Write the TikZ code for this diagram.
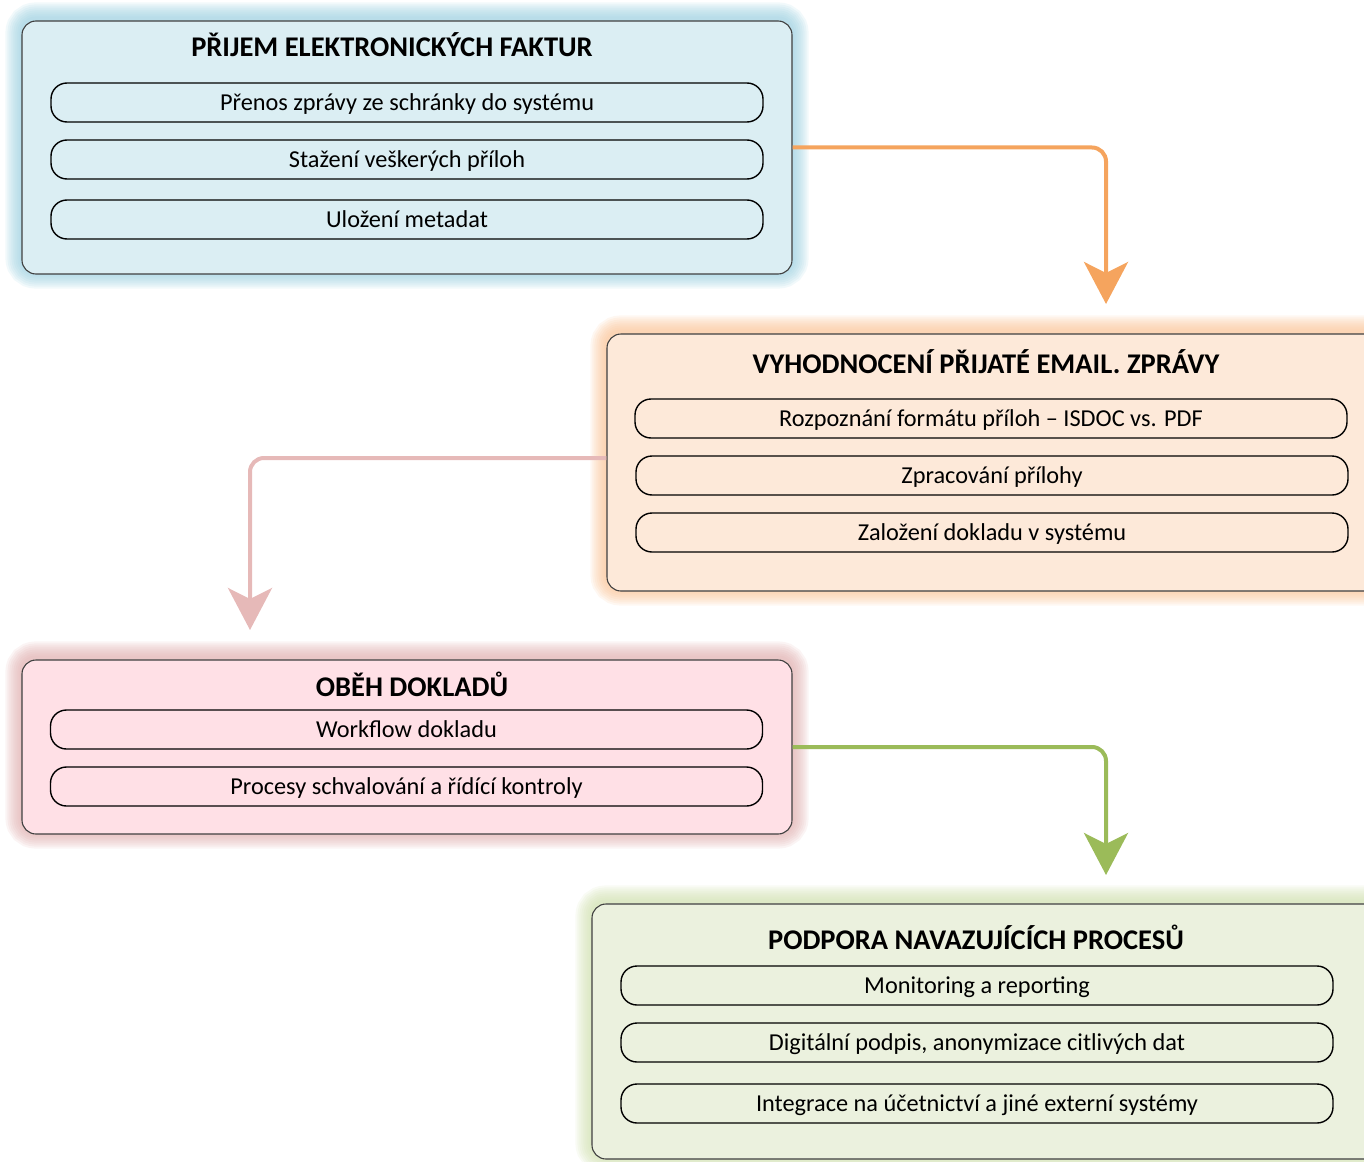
\documentclass[tikz,border=0pt]{standalone}
\usepackage{fontspec}
\setmainfont{Carlito}
\usetikzlibrary{arrows.meta,backgrounds}
\definecolor{bluefill}{RGB}{219,238,243}
\definecolor{blueglow}{RGB}{150,205,222}
\definecolor{orfill}{RGB}{253,233,217}
\definecolor{orglow}{RGB}{250,192,144}
\definecolor{pkfill}{RGB}{255,224,230}
\definecolor{pkglow}{RGB}{222,170,170}
\definecolor{grfill}{RGB}{235,241,222}
\definecolor{grglow}{RGB}{205,222,170}
\definecolor{orarrow}{RGB}{245,164,94}
\definecolor{pkarrow}{RGB}{230,185,184}
\definecolor{grarrow}{RGB}{155,187,89}
\tikzset{
  panel/.style={draw=black!75, line width=1.1pt, rounded corners=14pt, inner sep=0pt, fill=#1},
  pill/.style={draw=black, line width=1.4pt, rounded corners=16pt, inner sep=0pt, text depth=0pt,
    minimum width=712pt, minimum height=39pt, font=\fontsize{24.3}{27}\selectfont},
  ttl/.style={font=\fontsize{28.5}{32}\selectfont\bfseries, inner sep=0pt},
  conn/.style={line width=4pt, rounded corners=14pt, -{Stealth[length=42pt,width=44pt,inset=11pt]}},
  glowline/.style={draw=#1, rounded corners=14pt}
}
\newcommand{\glowbox}[2]{%
  \begin{scope}[on background layer]
    \foreach \w in {32,28,24,20,16,12,8,4}{
      \draw[glowline=#2, line width=\w pt, opacity=0.13] ([yshift=2pt]#1.south west) rectangle ([yshift=2pt]#1.north east);
    }
  \end{scope}}
\begin{document}
\begin{tikzpicture}[x=1pt,y=-1pt]
\useasboundingbox (0,0) rectangle (1364,1161);
% Box 1
\node[panel=bluefill, minimum width=770pt, minimum height=253pt] (b1) at (407,147.5) {};
\glowbox{b1}{blueglow}
\node[ttl] (t1) at (392,45) {PŘIJEM ELEKTRONICKÝCH FAKTUR};
\node[pill] (p11) at (407,102.5) {Přenos zprávy ze schránky do systému};
\node[pill] (p12) at (407,159.5) {Stažení veškerých příloh};
\node[pill] (p13) at (407,219.5) {Uložení metadat};
% Box 2
\node[panel=orfill, minimum width=790pt, minimum height=257pt] (b2) at (1002,462.5) {};
\glowbox{b2}{orglow}
\node[ttl] (t2) at (986,362) {VYHODNOCENÍ PŘIJATÉ EMAIL. ZPRÁVY};
\node[pill] (p21) at (991,418.5) {Rozpoznání formátu příloh – ISDOC vs. PDF};
\node[pill] (p22) at (992,475.5) {Zpracování přílohy};
\node[pill] (p23) at (992,532.5) {Založení dokladu v systému};
% Box 3
\node[panel=pkfill, minimum width=770pt, minimum height=174pt] (b3) at (407,747) {};
\glowbox{b3}{pkglow}
\node[ttl] (t3) at (412,684) {OBĚH DOKLADŮ};
\node[pill] (p31) at (406.5,729.5) {Workflow dokladu};
\node[pill] (p32) at (406.5,786.5) {Procesy schvalování a řídící kontroly};
% Box 4
\node[panel=grfill, minimum width=800pt, minimum height=255pt] (b4) at (992,1031.5) {};
\glowbox{b4}{grglow}
\node[ttl] (t4) at (976,937) {PODPORA NAVAZUJÍCÍCH PROCESŮ};
\node[pill] (p41) at (977,985.5) {Monitoring a reporting};
\node[pill] (p42) at (977,1042.5) {Digitální podpis, anonymizace citlivých dat};
\node[pill] (p43) at (977,1103.5) {Integrace na účetnictví a jiné externí systémy};
% Arrows
\coordinate (e1) at (1106,304);
\coordinate (e2) at (250,630);
\coordinate (e3) at (1106,875);
\draw[conn, draw=orarrow] (b1.east) -| (e1);
\draw[conn, draw=pkarrow] (b2.west |- 0,458) -| (e2);
\draw[conn, draw=grarrow] (b3.east) -| (e3);
\end{tikzpicture}
\end{document}
